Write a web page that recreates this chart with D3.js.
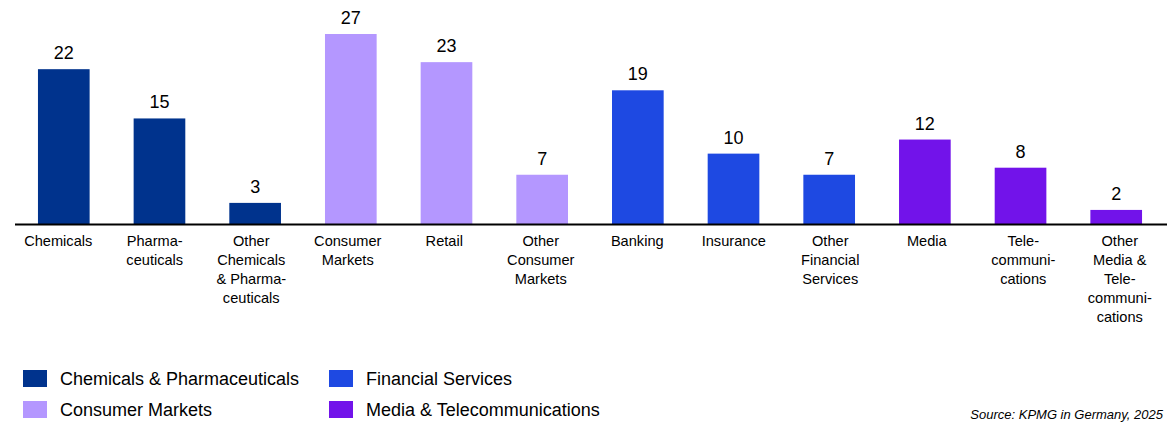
<!DOCTYPE html>
<html>
<head>
<meta charset="utf-8">
<script src="https://cdn.jsdelivr.net/npm/d3@7"></script>
<style>
  html, body { margin: 0; padding: 0; background: #fff; }
  svg { display: block; font-family: "Liberation Sans", Arial, sans-serif; }
</style>
</head>
<body>
<svg id="chart" width="1167" height="423"></svg>
<script>
// Category labels (line breaks as drawn under the axis)
const categories = [
  ["Chemicals"],
  ["Pharma-", "ceuticals"],
  ["Other", "Chemicals", "& Pharma-", "ceuticals"],
  ["Consumer", "Markets"],
  ["Retail"],
  ["Other", "Consumer", "Markets"],
  ["Banking"],
  ["Insurance"],
  ["Other", "Financial", "Services"],
  ["Media"],
  ["Tele-", "communi-", "cations"],
  ["Other", "Media &", "Tele-", "communi-", "cations"]
];
const values = [22, 15, 3, 27, 23, 7, 19, 10, 7, 12, 8, 2];
const groupOf = [0, 0, 0, 1, 1, 1, 2, 2, 2, 3, 3, 3];
const groups = ["Chemicals & Pharmaceuticals", "Consumer Markets", "Financial Services", "Media & Telecommunications"];
const groupColors = ["#00338D", "#B497FF", "#1E49E2", "#7213EA"];
const source = "Source: KPMG in Germany, 2025";

const svg = d3.select("#chart");
const baseY = 224;

const x = d3.scaleBand()
  .domain(d3.range(values.length))
  .range([15, 1165])
  .paddingInner(0.46)
  .paddingOuter(0.24);

// Label slots under the axis are laid out on a slightly wider grid
const xLabel = d3.scaleBand()
  .domain(d3.range(values.length))
  .range([10, 1168]);

const y = d3.scaleLinear().domain([0, 27]).range([baseY, 34]);
const color = d3.scaleOrdinal().domain(d3.range(groups.length)).range(groupColors);

// Bars
svg.append("g").selectAll("rect")
  .data(values)
  .join("rect")
  .attr("x", (d, i) => x(i))
  .attr("width", x.bandwidth())
  .attr("y", d => y(d))
  .attr("height", d => baseY - y(d))
  .attr("fill", (d, i) => color(groupOf[i]));

// Value labels
svg.append("g").selectAll("text")
  .data(values)
  .join("text")
  .attr("x", (d, i) => x(i) + x.bandwidth() / 2)
  .attr("y", d => y(d) - 10)
  .attr("text-anchor", "middle")
  .attr("font-size", 18)
  .attr("fill", "#000")
  .text(d => d);

// Baseline
svg.append("line")
  .attr("x1", 15).attr("x2", 1167)
  .attr("y1", baseY + 0.5).attr("y2", baseY + 0.5)
  .attr("stroke", "#000").attr("stroke-width", 2);

// Category labels
const cat = svg.append("g").selectAll("text")
  .data(categories)
  .join("text")
  .attr("text-anchor", "middle")
  .attr("font-size", 14.6)
  .attr("fill", "#000")
  .attr("transform", (d, i) => `translate(${xLabel(i) + xLabel.bandwidth() / 2},${baseY + 22})`);
cat.selectAll("tspan")
  .data(d => d)
  .join("tspan")
  .attr("x", 0)
  .attr("y", (d, j) => j * 19)
  .text(d => d);

// Legend
const legendPos = [[23, 370], [23, 401], [329, 370], [329, 401]];
const legend = svg.append("g").selectAll("g")
  .data(groups)
  .join("g")
  .attr("transform", (d, i) => `translate(${legendPos[i][0]},${legendPos[i][1]})`);
legend.append("rect")
  .attr("width", 24).attr("height", 17)
  .attr("fill", (d, i) => groupColors[i]);
legend.append("text")
  .attr("x", 37).attr("y", 15)
  .attr("font-size", 18)
  .attr("fill", "#000")
  .text(d => d);

// Source note
svg.append("text")
  .attr("x", 1163).attr("y", 419)
  .attr("text-anchor", "end")
  .attr("font-size", 13)
  .attr("font-style", "italic")
  .attr("fill", "#000")
  .text(source);
</script>
</body>
</html>
